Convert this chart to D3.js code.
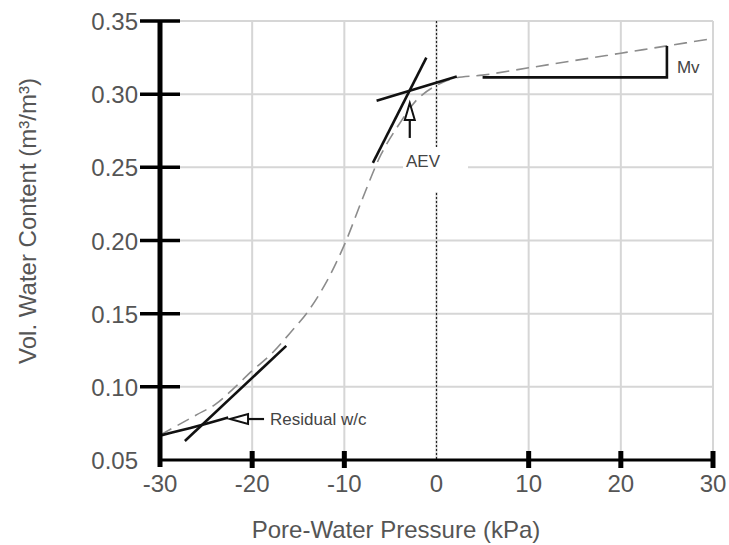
<!DOCTYPE html>
<html>
<head>
<meta charset="utf-8">
<script src="https://cdn.jsdelivr.net/npm/d3@7"></script>
<style>
  body { margin: 0; background: #fff; }
  svg { display: block; font-family: "Liberation Sans", Arial, sans-serif; }
</style>
</head>
<body>
<svg id="chart" width="729" height="545"></svg>
<script>

// soil-water characteristic curve
const pressure = [-30, -28, -26, -24, -22, -20, -18, -16, -14, -12, -10, -8, -6, -4, -2, 0, 2, 5, 10, 15, 20, 25, 30];
const waterContent = [0.067, 0.074, 0.081, 0.088, 0.099, 0.111, 0.122, 0.136, 0.151, 0.171, 0.197, 0.229, 0.259, 0.280, 0.297, 0.306, 0.311, 0.313, 0.318, 0.323, 0.328, 0.333, 0.338];

const xTicks = [-30, -20, -10, 0, 10, 20, 30];
const yTicks = [0.05, 0.10, 0.15, 0.20, 0.25, 0.30, 0.35];

// construction lines (pressure, water content)
const aevSteep = [[-6.9, 0.253], [-1.1, 0.325]];
const aevFlat = [[-6.5, 0.2955], [2.2, 0.312]];
const resSteep = [[-27.3, 0.063], [-16.3, 0.128]];
const resFlat = [[-29.8, 0.067], [-26, 0.073], [-22.6, 0.079]];
const mvStep = [[5, 0.3115], [25, 0.3115], [25, 0.333]];

const aevPoint = {x: -2.9, y: 0.294};
const residualPoint = {x: -22.4, y: 0.078};

let svg = d3.select('#chart');

var xScale = d3.scaleLinear().domain([-30, 30]).range([160, 713]);
var yScale = d3.scaleLinear().domain([0.05, 0.35]).range([460, 21]);

const grey = '#d6d6d6';
const txt = '#555';

// grid
svg.selectAll('.vgrid')
    .data(xTicks.slice(1))
    .enter().append('line')
    .attr('x1', d => xScale(d)).attr('x2', d => xScale(d))
    .attr('y1', yScale(0.35)).attr('y2', yScale(0.05))
    .attr('stroke', grey).attr('stroke-width', 2);

svg.selectAll('.hgrid')
    .data(yTicks.slice(1))
    .enter().append('line')
    .attr('x1', xScale(-30)).attr('x2', xScale(30))
    .attr('y1', d => yScale(d)).attr('y2', d => yScale(d))
    .attr('stroke', grey).attr('stroke-width', 2);

// zero pressure line
svg.append('line')
    .attr('x1', xScale(0)).attr('x2', xScale(0))
    .attr('y1', yScale(0.35)).attr('y2', yScale(0.05))
    .attr('stroke', '#222').attr('stroke-width', 1.2)
    .attr('stroke-dasharray', '2,2');

// white box behind AEV label
svg.append('rect')
    .attr('x', 403).attr('y', 147)
    .attr('width', 65).attr('height', 45)
    .attr('fill', '#fff');

// the curve
var curveLine = d3.line()
    .x((d, i) => xScale(pressure[i]))
    .y(d => yScale(d))
    .curve(d3.curveCatmullRom);

svg.append('path')
    .datum(waterContent)
    .attr('d', curveLine)
    .attr('fill', 'none')
    .attr('stroke', '#8c8c8c')
    .attr('stroke-width', 1.6)
    .attr('stroke-dasharray', '13,7');

// construction lines
var segLine = d3.line()
    .x(d => xScale(d[0]))
    .y(d => yScale(d[1]));

[aevSteep, aevFlat, resSteep, mvStep].forEach(function(seg){
    svg.append('path')
        .attr('d', segLine(seg))
        .attr('fill', 'none')
        .attr('stroke', '#111')
        .attr('stroke-width', 2.6);
});
svg.append('path')
    .attr('d', segLine.curve(d3.curveNatural)(resFlat))
    .attr('fill', 'none')
    .attr('stroke', '#111')
    .attr('stroke-width', 2.6);

// AEV arrow (pointing up)
let ax = xScale(aevPoint.x), ay = yScale(aevPoint.y);
svg.append('path')
    .attr('d', `M${ax},${ay} L${ax - 5},${ay + 17} L${ax + 5},${ay + 17} Z`)
    .attr('fill', '#fff').attr('stroke', '#111').attr('stroke-width', 2);
svg.append('line')
    .attr('x1', ax).attr('x2', ax).attr('y1', ay + 17).attr('y2', ay + 35)
    .attr('stroke', '#111').attr('stroke-width', 2.2);

// residual arrow (pointing left)
let rx = xScale(residualPoint.x), ry = yScale(residualPoint.y);
svg.append('path')
    .attr('d', `M${rx},${ry} L${rx + 18},${ry - 5} L${rx + 18},${ry + 5} Z`)
    .attr('fill', '#fff').attr('stroke', '#111').attr('stroke-width', 2);
svg.append('line')
    .attr('x1', rx + 18).attr('x2', rx + 34).attr('y1', ry).attr('y2', ry)
    .attr('stroke', '#111').attr('stroke-width', 2.2);

// labels
svg.append('text')
    .attr('x', 406).attr('y', 167)
    .attr('font-size', 17).attr('fill', '#444')
    .text('AEV');
svg.append('text')
    .attr('x', rx + 40).attr('y', ry + 6)
    .attr('font-size', 17).attr('fill', '#444')
    .text('Residual w/c');
svg.append('text')
    .attr('x', xScale(25) + 10).attr('y', yScale(0.3115) - 4)
    .attr('font-size', 17).attr('fill', '#444')
    .text('Mv');

// x axis
svg.append('line')
    .attr('x1', xScale(-30)).attr('x2', xScale(30))
    .attr('y1', yScale(0.05)).attr('y2', yScale(0.05))
    .attr('stroke', '#000').attr('stroke-width', 3);
svg.selectAll('.xtick')
    .data(xTicks.filter(d => d !== -30 && d !== 0))
    .enter().append('line')
    .attr('x1', d => xScale(d)).attr('x2', d => xScale(d))
    .attr('y1', yScale(0.05) - 9).attr('y2', yScale(0.05) + 8)
    .attr('stroke', '#000').attr('stroke-width', 5);

// y axis
svg.append('line')
    .attr('x1', xScale(-30)).attr('x2', xScale(-30))
    .attr('y1', yScale(0.35)).attr('y2', yScale(0.05) + 7)
    .attr('stroke', '#000').attr('stroke-width', 5);
svg.selectAll('.ytick')
    .data(yTicks.slice(1))
    .enter().append('line')
    .attr('x1', xScale(-30) - 20).attr('x2', xScale(-30) + 20)
    .attr('y1', d => yScale(d)).attr('y2', d => yScale(d))
    .attr('stroke', '#000').attr('stroke-width', 3.5);

// tick labels
svg.selectAll('.xlab')
    .data(xTicks)
    .enter().append('text')
    .attr('x', d => xScale(d)).attr('y', 492)
    .attr('text-anchor', 'middle')
    .attr('font-size', 24).attr('fill', txt)
    .text(d => d);

svg.selectAll('.ylab')
    .data(yTicks)
    .enter().append('text')
    .attr('x', 138).attr('y', d => yScale(d) + 9)
    .attr('text-anchor', 'end')
    .attr('font-size', 24).attr('fill', txt)
    .text(d => d3.format('.2f')(d));

// axis titles
svg.append('text')
    .attr('x', 396).attr('y', 538)
    .attr('text-anchor', 'middle')
    .attr('font-size', 24).attr('fill', txt)
    .text('Pore-Water Pressure (kPa)');

svg.append('text')
    .attr('transform', 'translate(36,221) rotate(-90)')
    .attr('text-anchor', 'middle')
    .attr('font-size', 24).attr('fill', txt)
    .text('Vol. Water Content (m³/m³)');

</script>
</body>
</html>
